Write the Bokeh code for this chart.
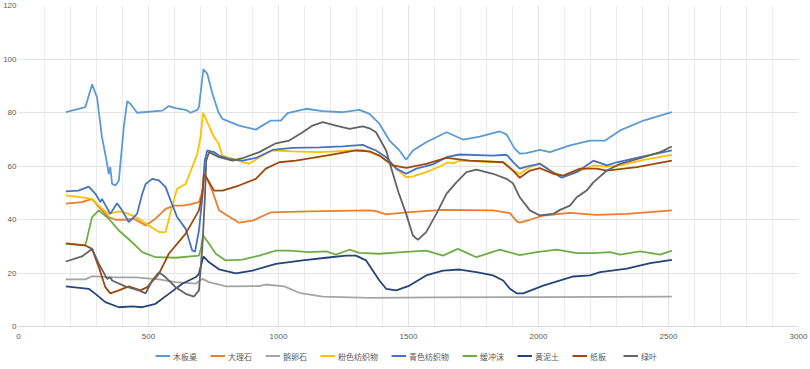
from bokeh.plotting import figure
from bokeh.layouts import column
from bokeh.models import Legend, LegendItem, Range1d, SingleIntervalTicker
from bokeh.embed import file_html
from bokeh.resources import INLINE

# ---- data ----
names = ["木板桌", "大理石", "鹅卵石", "粉色纺织物", "青色纺织物", "缓冲沫", "黄泥土", "纸板", "绿叶"]
colors = ["#5B9BD5", "#ED7D31", "#A5A5A5", "#FFC000", "#4472C4", "#70AD47", "#264478", "#9E480E", "#636363"]

muban_x = [182,257,283,302,321,341,347,353,360,373,386,405,418,431,456,553,578,604,643,662,688,694,711,726,746,769,784,848,913,938,971,1009,1035,1106,1170,1247,1311,1350,1388,1427,1465,1491,1517,1568,1646,1710,1774,1851,1877,1909,1928,1954,2005,2044,2121,2198,2256,2314,2404,2513]
muban_y = [80.1,82,90.5,85.7,70.8,60.8,57,59.6,53.3,52.7,54.6,74.5,84.2,83.2,79.9,80.7,82.4,81.6,81,79.9,81,82,96.1,94.5,87,80.1,77.6,75.1,73.6,75.1,77,77,79.8,81.4,80.5,80.1,81,79.5,75.8,69.5,65.8,62.3,65.8,68.9,72.6,69.9,71,72.9,71.8,66.4,64.6,64.8,66,65.2,67.7,69.5,69.5,73.3,77,80.1]

dali_x = [182,244,283,309,347,373,411,443,489,527,566,598,630,656,694,706,716,733,748,771,848,900,971,1118,1350,1375,1414,1491,1633,1825,1890,1916,1928,1967,2018,2121,2224,2340,2513]
dali_y = [45.9,46.5,47.7,44.6,40.9,39.9,39.9,40.3,37.8,40.3,44,45.2,45.2,45.6,46.5,50,57,53.5,50,43.5,38.8,39.6,42.7,43,43.4,43.1,41.9,42.7,43.6,43.4,42.4,39.4,38.8,39.9,41.5,42.5,41.7,42.1,43.4]

eluan_x = [182,257,283,360,450,540,604,681,707,733,771,797,926,951,1022,1080,1170,1350,1600,2000,2513]
eluan_y = [17.6,17.6,18.8,18.4,18.4,17.6,16.6,16,17.8,16.6,15.7,15,15.1,15.7,15,12.6,11.2,10.7,10.9,11,11.2]

fense_x = [182,244,283,321,347,386,424,463,501,540,566,591,610,643,668,688,700,710,726,752,769,784,836,887,938,977,1054,1157,1221,1324,1388,1440,1491,1517,1568,1620,1652,1671,1697,1864,1902,1928,1967,2005,2057,2095,2147,2211,2263,2314,2404,2513]
fense_y = [49,48.3,47.7,44,42.1,43,42.1,40.3,37.8,35.3,35.3,45,51.5,53.3,59.6,64.6,70.8,79.9,76.4,70.8,68.5,63.9,62.3,60.8,63.9,65.8,65.5,65.2,65.5,66,63.9,60.2,55.8,56.1,57.7,59.8,61.4,61,62,61.4,58.3,57,59.6,61,57.7,56.1,57.7,60.2,59.8,60.2,62.3,64.2]

qingse_x = [182,231,270,296,315,321,353,379,399,424,456,476,489,514,540,566,585,610,643,668,679,694,707,716,726,752,771,810,861,913,977,1054,1157,1247,1324,1350,1375,1414,1453,1491,1530,1594,1646,1697,1825,1877,1909,1928,1954,2005,2044,2089,2147,2211,2263,2301,2404,2513]
qingse_y = [50.5,50.8,52.3,49.6,46.5,47.7,42.1,46.1,43.4,39,42.1,49.6,53.3,55.2,54.6,52.1,47.1,40.9,36.5,28.4,28,35.9,48.3,62,65.8,65.2,63.9,62.7,62,63,66,66.8,67,67.3,67.9,66.8,65.8,63.3,59,57.1,59,60.6,63.3,64.3,63.9,64.2,60.8,59,59.8,60.8,58.3,55.6,57.7,62,60.2,61.4,63.6,65.8]

huanchong_x = [182,257,283,309,347,386,437,476,527,604,694,703,710,733,759,797,861,926,990,1041,1118,1183,1221,1273,1311,1388,1478,1568,1633,1690,1761,1851,1928,1993,2070,2147,2211,2275,2314,2391,2468,2513]
huanchong_y = [30.9,30.3,40.9,43.4,40.3,35.9,31.5,27.8,25.9,25.7,26.5,29.6,34,30.9,27.2,24.7,25,26.5,28.4,28.4,27.8,28.1,26.9,28.7,27.5,27.2,27.8,28.4,26.5,29,25.9,28.7,26.7,27.8,28.7,27.4,27.4,27.8,26.9,28.1,26.9,28.4]

huangni_x = [182,270,296,334,386,437,476,527,578,630,681,694,711,733,771,836,900,990,1093,1183,1260,1298,1337,1388,1414,1453,1504,1568,1633,1697,1761,1825,1864,1890,1916,1941,2018,2134,2198,2237,2340,2430,2513]
huangni_y = [15,14.1,12.2,9.1,7.2,7.5,7.2,8.5,12.2,16,18.4,19.7,26.2,24,21.4,19.9,20.9,23.4,24.7,25.7,26.5,26.5,24.7,17.2,14.1,13.5,15.3,19.1,20.9,21.3,20.3,19.1,17.2,14.1,12.4,12.4,15.3,18.7,19.1,20.3,21.6,23.7,24.9]

zhiban_x = [182,257,283,309,334,353,386,424,469,495,540,578,643,694,707,713,726,752,784,848,913,951,1003,1067,1183,1298,1350,1388,1440,1491,1568,1646,1736,1864,1902,1928,1967,2005,2057,2095,2160,2224,2263,2378,2513]
zhiban_y = [31.1,30.3,29,22.2,14.7,12.4,13.5,15,13.5,14.7,19.7,27.2,34.7,43.4,49.6,57.1,55.2,50.8,50.8,52.7,55.2,59,61.4,62,63.9,65.8,65.5,63.9,60.2,59.3,60.8,63,62,61.4,58.3,55.6,58.3,59.2,57.1,56.4,59,59,58.3,59.6,62]

lvye_x = [182,244,283,309,341,353,360,411,463,489,514,540,566,604,643,675,694,707,717,722,733,771,823,861,926,990,1041,1093,1131,1170,1221,1273,1324,1350,1375,1414,1440,1462,1491,1517,1536,1568,1607,1646,1684,1723,1761,1825,1877,1902,1928,1967,2005,2057,2083,2121,2147,2185,2211,2263,2314,2404,2468,2513]
lvye_y = [24.3,26.2,29,23.4,17.8,18.4,17.2,15,13.5,12.4,17.2,20.3,18.4,14.7,12.2,11.2,13.5,29.6,48.3,62,65.2,63.3,62,62.9,65.2,68.5,69.5,72.6,75.1,76.4,75.1,73.9,74.8,74.1,72.6,65.8,57.1,50,42.1,34,32.4,35.3,42.1,49.6,53.9,57.7,58.6,57.1,55.2,53.5,48.3,43.4,41.5,42.1,43.6,45.2,48.3,50.8,53.9,58.3,60.8,63.3,65.2,67.3]

series_x = [muban_x, dali_x, eluan_x, fense_x, qingse_x, huanchong_x, huangni_x, zhiban_x, lvye_x]
series_y = [muban_y, dali_y, eluan_y, fense_y, qingse_y, huanchong_y, huangni_y, zhiban_y, lvye_y]

W = 810

# ---- main chart ----
p = figure(width=W, height=345, output_backend="svg", toolbar_location=None,
           x_range=Range1d(0, 3000), y_range=Range1d(0, 120),
           min_border_left=0, min_border_right=12, min_border_top=5, min_border_bottom=19)
p.outline_line_color = None
p.background_fill_color = "white"
p.border_fill_color = "white"

p.xaxis.ticker = SingleIntervalTicker(interval=500, num_minor_ticks=5)
p.yaxis.ticker = SingleIntervalTicker(interval=20, num_minor_ticks=0)

for ax in (p.xaxis[0], p.yaxis[0]):
    ax.major_tick_line_color = None
    ax.minor_tick_line_color = None
    ax.major_tick_in = 0
    ax.major_tick_out = 0
    ax.major_label_text_color = "#595959"
    ax.major_label_text_font = "Liberation Sans"
    ax.major_label_text_font_size = "8px"
p.xaxis.major_label_standoff = 3
p.yaxis.major_label_standoff = 2
p.xaxis.axis_line_color = "#D9D9D9"
p.yaxis.axis_line_color = None

p.xgrid.grid_line_color = "#E4E4E4"
p.xgrid.minor_grid_line_color = "#ECECEC"
p.ygrid.grid_line_color = "#E4E4E4"

for n, c, xs, ys in zip(names, colors, series_x, series_y):
    p.line(xs, ys, line_color=c, line_width=1.8)

# ---- legend strip below ----
lg = figure(width=W, height=21, output_backend="svg", toolbar_location=None,
            x_range=Range1d(0, 1), y_range=Range1d(0, 1),
            min_border_left=0, min_border_right=0, min_border_top=0, min_border_bottom=0)
lg.axis.visible = False
lg.grid.visible = False
lg.outline_line_color = None
lg.background_fill_color = "white"
lg.border_fill_color = "white"

items = []
for n, c in zip(names, colors):
    # placeholder renderer outside the visible range, only used for the legend glyph
    r = lg.line([-5, -4], [-5, -4], line_color=c, line_width=1.8)
    items.append(LegendItem(label=n, renderers=[r]))

legend = Legend(items=items, orientation="horizontal", location="center",
                label_text_font="Noto Sans CJK SC", label_text_font_size="8px",
                label_text_color="#595959", glyph_width=15, glyph_height=10,
                label_standoff=3, spacing=13, padding=2, margin=0,
                border_line_color=None, background_fill_alpha=0)
lg.add_layout(legend, "center")

layout = column(p, lg, spacing=0)
open("out.html", "w").write(file_html(layout, INLINE))
